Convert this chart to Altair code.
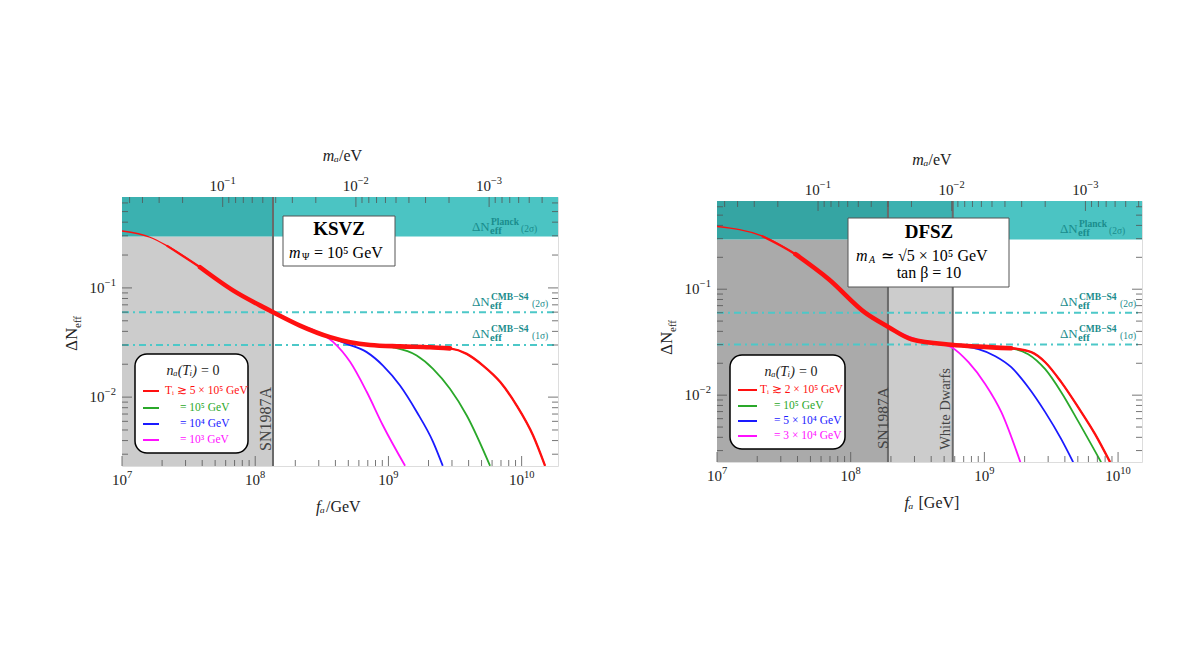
import altair as alt
import pandas as pd
import numpy as np

SERIF = "Liberation Serif"
TEAL_TXT = "#1a8c8c"

# ---------------- values ----------------
F_MIN = 1e7
KSVZ_F_MAX = 1.875e10
DFSZ_F_MAX = 1.51e10
N_MIN = 2.34e-3
N_MAX = 0.68
PLANCK_2SIG = 0.295
CMBS4_2SIG = 0.06
CMBS4_1SIG = 0.03
MA_FA = 5.7e6          # m_a [eV] = MA_FA / f_a [GeV]

KSVZ_SN1987A = 1.36e8
DFSZ_SN1987A = 1.9e8
DFSZ_WD = 5.8e8

# KSVZ curves (log10 f_a, log10 Delta N_eff)
ksvz_red_lf = [7.000, 7.210, 7.336, 7.586, 7.836, 8.086, 8.149, 8.336, 8.562, 8.712,
               8.862, 9.087, 9.312, 9.462, 9.588, 9.710, 9.838, 9.963, 10.086, 10.176]
ksvz_red_ln = [-0.479, -0.536, -0.613, -0.811, -1.025, -1.192, -1.232, -1.345, -1.451, -1.497,
               -1.522, -1.535, -1.543, -1.554, -1.604, -1.711, -1.860, -2.077, -2.351, -2.629]
ksvz_green_lf = [8.862, 9.035, 9.212, 9.335, 9.462, 9.588, 9.763]
ksvz_green_ln = [-1.522, -1.545, -1.619, -1.741, -1.924, -2.168, -2.629]
ksvz_blue_lf = [8.562, 8.687, 8.837, 8.959, 9.087, 9.212, 9.335, 9.408]
ksvz_blue_ln = [-1.451, -1.512, -1.588, -1.711, -1.894, -2.134, -2.409, -2.629]
ksvz_mag_lf = [8.149, 8.336, 8.434, 8.584, 8.712, 8.837, 8.959, 9.125]
ksvz_mag_ln = [-1.232, -1.345, -1.384, -1.494, -1.677, -1.951, -2.260, -2.629]

# DFSZ curves
dfsz_red_lf = [7.000, 7.336, 7.587, 7.836, 8.110, 8.284, 8.455, 8.754, 8.955, 9.201,
               9.351, 9.455, 9.575, 9.701, 9.828, 9.940]
dfsz_red_ln = [-0.408, -0.497, -0.670, -0.906, -1.224, -1.358, -1.472, -1.524, -1.542, -1.557,
               -1.594, -1.689, -1.877, -2.113, -2.368, -2.632]
dfsz_green_lf = [9.082, 9.201, 9.328, 9.455, 9.575, 9.701, 9.873]
dfsz_green_ln = [-1.552, -1.560, -1.613, -1.755, -1.972, -2.245, -2.632]
dfsz_blue_lf = [8.754, 8.828, 8.955, 9.082, 9.201, 9.328, 9.455, 9.575, 9.664]
dfsz_blue_ln = [-1.524, -1.538, -1.566, -1.632, -1.736, -1.925, -2.160, -2.415, -2.632]
dfsz_mag_lf = [8.284, 8.507, 8.657, 8.754, 8.881, 9.007, 9.127, 9.269]
dfsz_mag_ln = [-1.358, -1.481, -1.509, -1.547, -1.689, -1.896, -2.160, -2.632]

F_TICK_VALUES = [1e7, 1e8, 1e9, 1e10]
F_TICK_EXPS = ["7", "8", "9", "10"]
N_TICK_VALUES = [0.1, 0.01]
N_TICK_EXPS = ["−1", "−2"]
MA_TICK_VALUES = [0.1, 0.01, 0.001]
MA_TICK_EXPS = ["−1", "−2", "−3"]

KSVZ_LEGEND = ["Tᵢ ≳ 5 × 10⁵ GeV", "= 10⁵ GeV", "= 10⁴ GeV", "= 10³ GeV"]
DFSZ_LEGEND = ["Tᵢ ≳ 2 × 10⁵ GeV", "= 10⁵ GeV", "= 5 × 10⁴ GeV", "= 3 × 10⁴ GeV"]
COLORS = ["#ff1010", "#2aa82a", "#1a1aff", "#ff10ff"]

BASE_FS = 15
EXP_FS = 10.5


def exp_width(e):
    return sum(0.59 * EXP_FS if ch == "−" else 0.5 * EXP_FS for ch in e)


def txt(text, x, y, size=13, color="black", align="center", baseline="middle",
        weight="normal", style="normal", angle=0):
    return alt.Chart(pd.DataFrame({"t": [text]})).mark_text(
        font=SERIF, fontSize=size, color=color, align=align, baseline=baseline,
        fontWeight=weight, fontStyle=style, angle=angle,
    ).encode(x=alt.value(x), y=alt.value(y), text="t:N")


def neff_label(x0, yb, sup, sig, sup_w):
    return [
        txt("ΔN", x0, yb, 13, TEAL_TXT, "left", "alphabetic"),
        txt(sup, x0 + 19, yb - 6, 9.5, TEAL_TXT, "left", "alphabetic", weight="bold"),
        txt("eff", x0 + 18, yb + 3, 10.5, TEAL_TXT, "left", "alphabetic", weight="bold"),
        txt(sig, x0 + 20 + sup_w, yb + 1, 9.5, TEAL_TXT, "left", "alphabetic"),
    ]


def build_panel(c):
    W, H, fmax = c["W"], c["H"], c["fmax"]
    xs = alt.Scale(type="log", domain=[F_MIN, fmax], nice=False)
    ys = alt.Scale(type="log", domain=[N_MIN, N_MAX], nice=False)
    xaxis = alt.Axis(values=F_TICK_VALUES, labels=False, ticks=False, domain=False, grid=False, title=None)
    yaxis = alt.Axis(values=N_TICK_VALUES, labels=False, ticks=False, domain=False, grid=False, title=None)

    def X(f):
        return alt.X(f, type="quantitative", scale=xs, axis=xaxis)

    def Y(f):
        return alt.Y(f, type="quantitative", scale=ys, axis=yaxis)

    layers = []
    # shaded regions
    rdf = pd.DataFrame(c["regions"], columns=["f1", "f2", "n1", "n2", "c"])
    layers.append(alt.Chart(rdf).mark_rect().encode(
        x=X("f1"), x2="f2", y=Y("n1"), y2="n2", color=alt.Color("c:N", scale=None)))
    # bound walls
    layers.append(alt.Chart(pd.DataFrame({"f": c["walls"]})).mark_rule(
        color="#6a6a6a", strokeWidth=2).encode(x=X("f"), y=alt.value(0), y2=alt.value(H)))
    # CMB-S4 lines
    layers.append(alt.Chart(pd.DataFrame({"n": [CMBS4_2SIG, CMBS4_1SIG]})).mark_rule(
        color="#4cc8c8", strokeWidth=2, strokeDash=[7, 4, 2, 4]).encode(
        y=Y("n"), x=alt.value(0), x2=alt.value(W)))
    # curves (magenta, blue, green below red)
    for (lf, ln), col in zip(reversed(c["curves"]), reversed(COLORS[1:])):
        df = pd.DataFrame({"f": 10 ** np.array(lf), "n": 10 ** np.array(ln)})
        layers.append(alt.Chart(df).mark_line(interpolate="monotone", color=col,
                                              strokeWidth=1.8, clip=True).encode(x=X("f"), y=Y("n")))
    rlf, rln = c["red"]
    rdf2 = pd.DataFrame({"lf": rlf, "f": 10 ** np.array(rlf), "n": 10 ** np.array(rln)})
    base_red = alt.Chart(rdf2)
    layers.append(base_red.mark_line(interpolate="monotone", color=COLORS[0], strokeWidth=1.3,
                                     clip=True).encode(x=X("f"), y=Y("n")))
    layers.append(base_red.transform_filter(alt.datum.lf >= 7.3).mark_line(
        interpolate="monotone", color=COLORS[0], strokeWidth=2.3, clip=True).encode(x=X("f"), y=Y("n")))
    lo, hi = c["thick"]
    layers.append(base_red.transform_filter((alt.datum.lf >= lo) & (alt.datum.lf <= hi)).mark_line(
        interpolate="monotone", color=COLORS[0], strokeWidth=4.6, strokeCap="round").encode(x=X("f"), y=Y("n")))

    # inward frame ticks
    fvals = [k * 10 ** d for d in range(7, 11) for k in range(1, 10) if F_MIN <= k * 10 ** d <= fmax]
    nvals = [k * 10 ** d for d in range(-3, 0) for k in range(1, 10) if N_MIN <= k * 10 ** d <= N_MAX]
    mvals = [k * 10 ** d for d in range(-4, 1) for k in range(1, 10)]
    mvals = [m for m in mvals if F_MIN <= MA_FA / m <= fmax]

    def is_major(v):
        return round(v / 10 ** np.floor(np.log10(v) + 1e-9)) == 1

    tick_col = "#555555"
    for major in (True, False):
        L = 10 if major else 6
        fv = [v for v in fvals if is_major(v) == major]
        nv = [v for v in nvals if is_major(v) == major]
        mv = [MA_FA / v for v in mvals if is_major(v) == major]
        layers.append(alt.Chart(pd.DataFrame({"f": fv})).mark_rule(color=tick_col, opacity=0.8).encode(
            x=X("f"), y=alt.value(H), y2=alt.value(H - L)))
        layers.append(alt.Chart(pd.DataFrame({"f": mv})).mark_rule(color=tick_col, opacity=0.8).encode(
            x=X("f"), y=alt.value(0), y2=alt.value(L)))
        layers.append(alt.Chart(pd.DataFrame({"n": nv})).mark_rule(color=tick_col, opacity=0.8).encode(
            y=Y("n"), x=alt.value(0), x2=alt.value(L)))
        layers.append(alt.Chart(pd.DataFrame({"n": nv})).mark_rule(color=tick_col, opacity=0.8).encode(
            y=Y("n"), x=alt.value(W - L), x2=alt.value(W)))

    # tick labels 10^k built from base + exponent
    def xlabel(fpos, e, ypix):
        ew = exp_width(e)
        dx = (2 * 0.5 * BASE_FS - ew) / 2
        d = alt.Chart(pd.DataFrame({"f": [fpos]}))
        return [
            d.mark_text(font=SERIF, fontSize=BASE_FS, color="#222", align="right", dx=dx).encode(
                x=X("f"), y=alt.value(ypix), text=alt.value("10")),
            d.mark_text(font=SERIF, fontSize=EXP_FS, color="#222", align="left", dx=dx, dy=-5).encode(
                x=X("f"), y=alt.value(ypix), text=alt.value(e)),
        ]

    for v, e in zip(F_TICK_VALUES, F_TICK_EXPS):
        layers += xlabel(v, e, H + 14)
    for v, e in zip(MA_TICK_VALUES, MA_TICK_EXPS):
        layers += xlabel(MA_FA / v, e, -11)
    for v, e in zip(N_TICK_VALUES, N_TICK_EXPS):
        ew = exp_width(e)
        d = alt.Chart(pd.DataFrame({"n": [v]}))
        layers += [
            d.mark_text(font=SERIF, fontSize=BASE_FS, color="#222", align="right").encode(
                x=alt.value(-6 - ew), y=Y("n"), text=alt.value("10")),
            d.mark_text(font=SERIF, fontSize=EXP_FS, color="#222", align="right", dy=-5).encode(
                x=alt.value(-6), y=Y("n"), text=alt.value(e)),
        ]

    # axis titles
    layers += [
        txt("mₐ", W / 2 - 1, -41, 16, "#222", "right", style="italic"),
        txt("/eV", W / 2 - 1, -41, 16, "#222", "left"),
        txt("fₐ", W / 2 + c["fdx"], H + c["fdy"], 16, "#222", "right", style="italic"),
        txt(c["funit"], W / 2 + c["fdx"] + c["fgap"], H + c["fdy"], 16, "#222", "left"),
        txt("ΔN", -50, 154, 17, "#222", "left", angle=270),
        txt("eff", -44, 131, 11, "#222", "left", angle=270),
    ]

    # experimental labels
    x0 = W - c["lab_dx"]
    layers += neff_label(x0, c["planck_y"], "Planck", "(2σ)", 29)
    layers += neff_label(x0, c["s4a_y"], "CMB−S4", "(2σ)", 40)
    layers += neff_label(x0, c["s4b_y"], "CMB−S4", "(1σ)", 40)

    # rotated bound labels
    for t, x, y, s in c["rot"]:
        layers.append(txt(t, x, y, s, "#444444", "center", angle=270))

    # model box
    bx = c["box"]
    layers.append(alt.Chart(pd.DataFrame({"a": [0]})).mark_rect(
        fill="white", stroke="#555555", strokeWidth=1).encode(
        x=alt.value(bx[0]), x2=alt.value(bx[1]), y=alt.value(bx[2]), y2=alt.value(bx[3])))
    for item in c["box_text"]:
        layers.append(txt(*item))

    # legend box
    lg = c["leg"]
    layers.append(alt.Chart(pd.DataFrame({"a": [0]})).mark_rect(
        fill="white", stroke="black", strokeWidth=1.5, cornerRadius=12).encode(
        x=alt.value(lg["x"][0]), x2=alt.value(lg["x"][1]), y=alt.value(lg["y"][0]), y2=alt.value(lg["y"][1])))
    layers.append(txt("nₐ(Tᵢ)", lg["tx"], lg["ty"], 14, "#222", "right", style="italic"))
    layers.append(txt("= 0", lg["tx"] + 4, lg["ty"], 14, "#222", "left"))
    for i, (lab, col) in enumerate(zip(c["legend"], COLORS)):
        yy = lg["rows"][i]
        layers.append(alt.Chart(pd.DataFrame({"a": [0]})).mark_rule(color=col, strokeWidth=2).encode(
            x=alt.value(lg["lx"][0]), x2=alt.value(lg["lx"][1]), y=alt.value(yy)))
        layers.append(txt(lab, lg["tx0"] if i == 0 else lg["tx1"], yy, 11.5, col, "left"))

    panel = alt.layer(*layers).properties(width=W, height=H)
    spacer = alt.Chart(pd.DataFrame({"a": [0]})).mark_rule(opacity=0).encode(
        x=alt.value(0), y=alt.value(0), y2=alt.value(1)
    ).properties(width=10, height=c["drop"], view=alt.ViewBackground(strokeOpacity=0))
    return alt.vconcat(spacer, panel, spacing=0)


ksvz = dict(
    W=436, H=269, fmax=KSVZ_F_MAX, drop=1,
    regions=[(F_MIN, KSVZ_SN1987A, N_MIN, PLANCK_2SIG, "#cccccc"),
             (F_MIN, KSVZ_SN1987A, PLANCK_2SIG, N_MAX, "#3bb1b0"),
             (KSVZ_SN1987A, KSVZ_F_MAX, PLANCK_2SIG, N_MAX, "#4bc4c3")],
    walls=[KSVZ_SN1987A],
    curves=[(ksvz_green_lf, ksvz_green_ln), (ksvz_blue_lf, ksvz_blue_ln), (ksvz_mag_lf, ksvz_mag_ln)],
    red=(ksvz_red_lf, ksvz_red_ln), thick=(7.55, 9.47),
    funit="/GeV", fdx=-15, fdy=41, fgap=1,
    lab_dx=86, planck_y=33.5, s4a_y=108.5, s4b_y=141,
    rot=[("SN1987A", 143.5, 222, 16)],
    box=(161, 273, 19, 69),
    box_text=[("KSVZ", 217, 32, 19, "black", "center", "middle", "bold"),
              ("m", 167, 56, 16, "black", "left", "middle", "normal", "italic"),
              ("Ψ", 180, 60, 10, "black", "left", "middle"),
              ("= 10⁵ GeV", 192, 56, 16, "black", "left", "middle")],
    legend=KSVZ_LEGEND,
    leg=dict(x=(13, 126), y=(157, 256), tx=75, ty=174, rows=[194, 211, 227, 243],
             lx=(21, 37), tx0=43, tx1=58),
)

dfsz = dict(
    W=425, H=261, fmax=DFSZ_F_MAX, drop=5,
    regions=[(F_MIN, DFSZ_SN1987A, N_MIN, PLANCK_2SIG, "#aaaaaa"),
             (F_MIN, DFSZ_SN1987A, PLANCK_2SIG, N_MAX, "#35a5a3"),
             (DFSZ_SN1987A, DFSZ_WD, N_MIN, PLANCK_2SIG, "#cccccc"),
             (DFSZ_SN1987A, DFSZ_WD, PLANCK_2SIG, N_MAX, "#3bb1b0"),
             (DFSZ_WD, DFSZ_F_MAX, PLANCK_2SIG, N_MAX, "#4bc4c3")],
    walls=[DFSZ_SN1987A, DFSZ_WD],
    curves=[(dfsz_green_lf, dfsz_green_ln), (dfsz_blue_lf, dfsz_blue_ln), (dfsz_mag_lf, dfsz_mag_ln)],
    red=(dfsz_red_lf, dfsz_red_ln), thick=(7.55, 9.21),
    funit="[GeV]", fdx=-16, fdy=41, fgap=5,
    lab_dx=82, planck_y=31.5, s4a_y=104.7, s4b_y=136.7,
    rot=[("SN1987A", 166, 217, 15.5), ("White Dwarfs", 229, 208, 14.5)],
    box=(131, 292, 17, 86),
    box_text=[("DFSZ", 212, 31, 19, "black", "center", "middle", "bold"),
              ("m", 139, 55, 16, "black", "left", "middle", "normal", "italic"),
              ("A", 152, 59, 10, "black", "left", "middle", "normal", "italic"),
              ("≃ √5 × 10⁵ GeV", 164, 55, 16, "black", "left", "middle"),
              ("tan β = 10", 212, 72, 16, "black", "center", "middle")],
    legend=DFSZ_LEGEND,
    leg=dict(x=(13, 128), y=(154, 248), tx=78, ty=171, rows=[189, 205, 220, 235],
             lx=(21, 40), tx0=43, tx1=57),
)

chart = alt.hconcat(build_panel(ksvz), build_panel(dfsz), spacing=97).properties(
    padding={"left": 54, "top": 138, "right": 5, "bottom": 5}
).configure_view(stroke="#888888", strokeWidth=1).configure(background="white")

chart.save("out.html", embed_options={"renderer": "svg", "actions": False})
